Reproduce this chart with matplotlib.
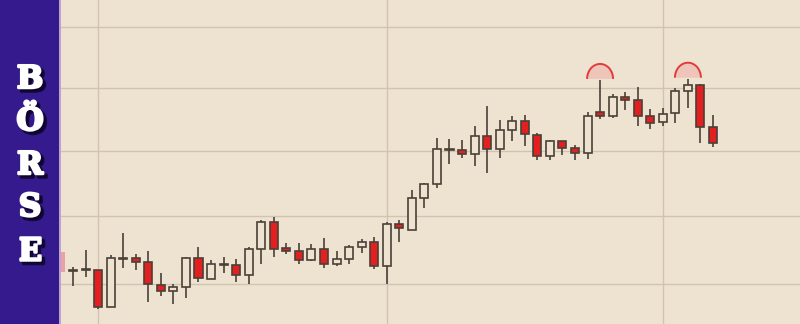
import matplotlib
matplotlib.use("Agg")
import matplotlib.pyplot as plt
import matplotlib.patheffects as pe
from matplotlib.patches import Rectangle, Wedge, Arc
from matplotlib.transforms import Affine2D, ScaledTranslation, blended_transform_factory

# daily candles
opens = [24.19, 24.20, 24.20, 23.68, 24.37, 24.38, 24.32, 23.99, 23.91, 23.96,
         24.38, 24.08, 24.30, 24.28, 24.13, 24.52, 24.92, 24.53, 24.49, 24.35,
         24.51, 24.29, 24.36, 24.54, 24.61, 24.26, 24.89, 24.80, 25.27, 25.48,
         26.01, 26.01, 25.95, 26.23, 26.02, 26.32, 26.47, 26.24, 25.92, 26.15,
         26.04, 25.96, 26.61, 26.54, 26.85, 26.80, 26.54, 26.46, 26.59, 26.95,
         27.04, 26.37]
highs = [24.25, 24.50, 24.21, 24.42, 24.75, 24.44, 24.48, 24.16, 24.00, 24.39,
         24.54, 24.35, 24.39, 24.36, 24.54, 24.95, 24.99, 24.60, 24.60, 24.58,
         24.67, 24.49, 24.57, 24.66, 24.69, 24.92, 24.95, 25.40, 25.50, 26.20,
         26.18, 26.17, 26.39, 26.71, 26.48, 26.54, 26.57, 26.28, 26.17, 26.16,
         26.09, 26.61, 27.12, 26.90, 26.93, 27.01, 26.66, 26.67, 26.99, 27.14,
         27.06, 26.56]
lows = [23.98, 24.11, 23.64, 23.67, 24.24, 24.21, 23.74, 23.83, 23.72, 23.81,
        24.03, 24.07, 24.16, 24.03, 24.01, 24.30, 24.40, 24.44, 24.29, 24.33,
        24.23, 24.27, 24.30, 24.45, 24.22, 24.01, 24.61, 24.79, 25.13, 25.43,
        25.79, 25.89, 25.76, 25.66, 25.88, 26.15, 26.07, 25.86, 25.85, 25.93,
        25.85, 25.87, 26.50, 26.51, 26.64, 26.39, 26.34, 26.39, 26.43, 26.67,
        26.12, 26.06]
closes = [24.20, 24.22, 23.68, 24.38, 24.38, 24.32, 24.00, 23.91, 23.96, 24.38,
          24.09, 24.30, 24.28, 24.13, 24.52, 24.92, 24.51, 24.49, 24.35, 24.51,
          24.29, 24.36, 24.54, 24.61, 24.26, 24.89, 24.82, 25.27, 25.48, 26.02,
          26.02, 25.95, 26.23, 26.02, 26.32, 26.47, 26.26, 25.92, 26.15, 26.04,
          25.96, 26.54, 26.54, 26.85, 26.80, 26.54, 26.43, 26.58, 26.95, 27.04,
          26.37, 26.12]

month_starts = [2, 25, 47]          # vertical grid lines
price_grid = [24, 25, 26, 27, 28]   # horizontal grid lines
dome_days = [42, 49]                # marked highs
left_marker = (24.18, 24.47)

title_letters = ["B", "Ö", "R", "S", "E"]

BG = "#eee3d1"
PURPLE = "#341a8c"
RED = "#e41f1f"
EDGE = "#4a4038"


def main():
    fig = plt.figure(figsize=(8, 3.24), dpi=100)
    fig.patch.set_facecolor(PURPLE)

    fig.patches.append(Rectangle((59 / 800, 0), 2 / 800, 1, transform=fig.transFigure,
                                 facecolor="#b9a3cf", edgecolor="none", zorder=1))

    # vertical title in the purple panel
    baselines = [88, 130, 174, 216, 260]
    for letter, yb in zip(title_letters, baselines):
        fig.text(30 / 800, 1 - yb / 324, letter, ha="center", va="baseline",
                 family="DejaVu Serif", fontweight="bold", fontsize=22.5, color="white",
                 path_effects=[pe.SimpleLineShadow(offset=(2.2, -2.2), shadow_color="#0c0426",
                                                   alpha=0.8, linewidth=2.5),
                               pe.SimplePatchShadow(offset=(2.2, -2.2), shadow_rgbFace="#0c0426",
                                                    alpha=0.8),
                               pe.Stroke(linewidth=1.8, foreground="white"),
                               pe.Normal()])

    ax = fig.add_axes([61 / 800, 0, 739 / 800, 1])
    ax.set_facecolor(BG)
    ax.set_yscale("log")
    ax.set_xlim(-0.956, 57.93)
    ax.set_ylim(23.435, 28.46)

    ax.set_xticks(month_starts)
    ax.set_yticks(price_grid)
    ax.yaxis.set_minor_locator(plt.NullLocator())
    ax.tick_params(length=0, labelleft=False, labelbottom=False)
    ax.grid(True, color="#d0c3b0", linewidth=1.0)
    ax.set_axisbelow(True)
    for s in ax.spines.values():
        s.set_visible(False)

    x = list(range(len(opens)))
    body_lo = [min(o, c) for o, c in zip(opens, closes)]
    body_h = [max(abs(c - o), 0.004) for o, c in zip(opens, closes)]
    colors = [RED if c < o else "none" for o, c in zip(opens, closes)]

    ax.vlines(x, lows, highs, color=EDGE, linewidth=1.2, zorder=2)
    ax.bar(x, body_h, bottom=body_lo, width=0.64, color=BG, edgecolor="none", zorder=3)
    ax.bar(x, body_h, bottom=body_lo, width=0.64, color=colors, edgecolor=EDGE,
           linewidth=1.2, zorder=4)

    # red domes over the marked highs
    for d in dome_days:
        place = ScaledTranslation(d, highs[d], ax.transData)
        shape = Affine2D().scale(0.13, 0.15).translate(0, 0.015) + fig.dpi_scale_trans
        ax.add_patch(Wedge((0, 0), 1, 0, 180, facecolor="#f2b9b0", alpha=0.7,
                           edgecolor="none", transform=shape + place, zorder=5))
        ax.add_patch(Arc((0, 0), 2, 2, theta1=0, theta2=180, color="#e03c3c",
                         linewidth=1.4, transform=shape + place, zorder=6))

    # small pink marker on the left edge
    tr = blended_transform_factory(ax.transAxes, ax.transData)
    ax.add_patch(Rectangle((0, left_marker[0]), 4 / 739, left_marker[1] - left_marker[0],
                           transform=tr, facecolor="#e9a0a8", edgecolor="none", zorder=5))

    fig.savefig("out.png", dpi=100, facecolor=fig.get_facecolor())
    plt.close(fig)


if __name__ == "__main__":
    main()
